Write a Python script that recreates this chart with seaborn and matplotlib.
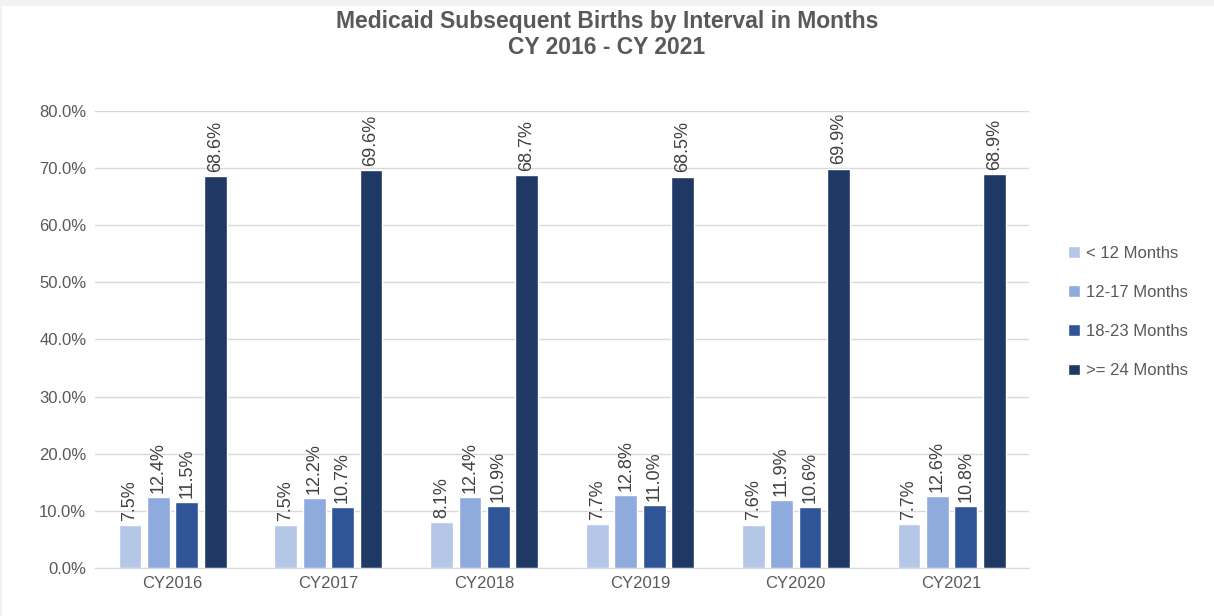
import pandas as pd
import seaborn as sns
import matplotlib.pyplot as plt
from matplotlib.patches import Rectangle

years = ["CY2016", "CY2017", "CY2018", "CY2019", "CY2020", "CY2021"]
intervals = ["< 12 Months", "12-17 Months", "18-23 Months", ">= 24 Months"]
under_12 = [7.5, 7.5, 8.1, 7.7, 7.6, 7.7]
m12_17 = [12.4, 12.2, 12.4, 12.8, 11.9, 12.6]
m18_23 = [11.5, 10.7, 10.9, 11.0, 10.6, 10.8]
over_24 = [68.6, 69.6, 68.7, 68.5, 69.9, 68.9]

colors = ["#B4C7E7", "#8FAADC", "#2F5597", "#1F3864"]
text_grey = "#595959"

rows = []
for label, vals in zip(intervals, [under_12, m12_17, m18_23, over_24]):
    for yr, v in zip(years, vals):
        rows.append({"year": yr, "interval": label, "pct": v})
df = pd.DataFrame(rows)

sns.set_style("white")
plt.rcParams['font.family'] = ['Liberation Sans', 'DejaVu Sans']

fig = plt.figure(figsize=(12.14, 6.16), dpi=100, facecolor="#F2F2F2")
# white chart area with thin grey strip at top/left like the screenshot
fig.patches.append(Rectangle((2 / 1214, 0), 1, 1 - 6 / 616, transform=fig.transFigure,
                             facecolor="white", edgecolor="none", zorder=-1))

ax = fig.add_axes([0.078, 0.078, 0.77, 0.742])
ax.set_facecolor("none")

sns.barplot(data=df, x="year", y="pct", hue="interval", palette=colors,
            saturation=1, width=0.73, gap=0.2, ax=ax, legend=True)

for cont in ax.containers:
    ax.bar_label(cont, labels=[f"{v:.1f}%" for v in cont.datavalues],
                 rotation=90, padding=3, fontsize=13, color="#404040")

ax.set_ylim(0, 80)
ax.set_yticks(range(0, 81, 10))
ax.set_yticklabels([f"{t:.1f}%" for t in range(0, 81, 10)])
ax.yaxis.grid(True, color="#D9D9D9", linewidth=1)
ax.set_axisbelow(True)
ax.set_xlabel("")
ax.set_ylabel("")
ax.tick_params(axis="both", length=0, labelsize=12, labelcolor=text_grey, pad=6)
for s in ["top", "right", "left"]:
    ax.spines[s].set_visible(False)
ax.spines["bottom"].set_color("#D9D9D9")

ax.legend(loc="center left", bbox_to_anchor=(1.025, 0.56), frameon=False,
          fontsize=12, labelcolor=text_grey, handlelength=0.7, handleheight=0.7,
          handletextpad=0.4, labelspacing=1.45)

fig.suptitle("Medicaid Subsequent Births by Interval in Months\nCY 2016 - CY 2021",
             y=0.983, fontsize=16.5, fontweight="bold", color=text_grey, linespacing=1.15)

fig.savefig("out.png", dpi=100, facecolor=fig.get_facecolor())
